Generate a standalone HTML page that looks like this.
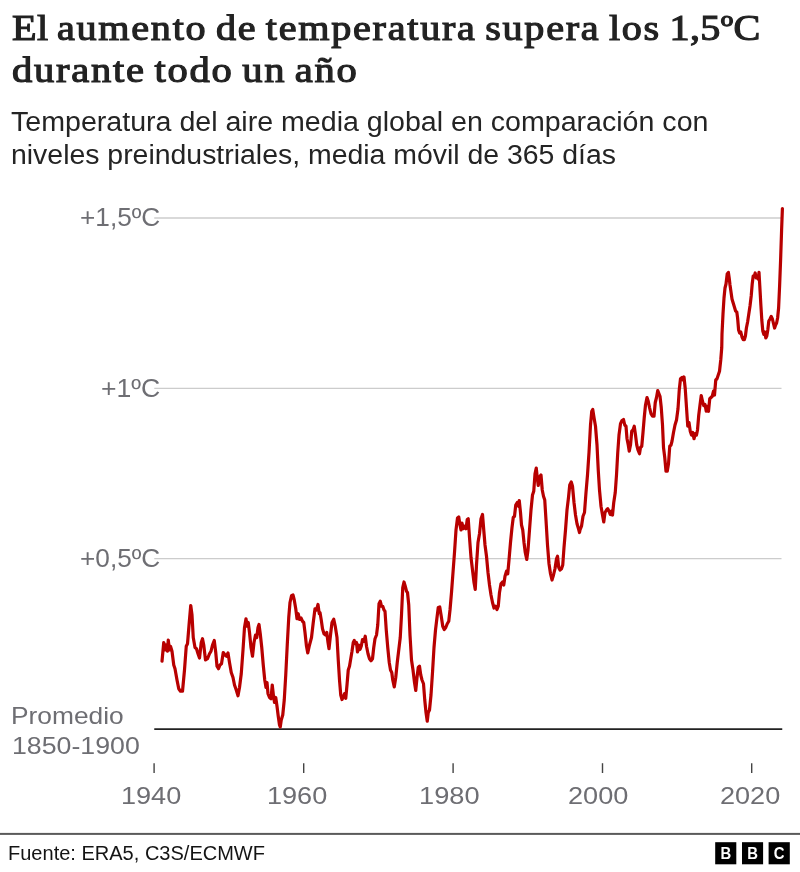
<!DOCTYPE html>
<html lang="es"><head><meta charset="utf-8"><title>El aumento de temperatura supera los 1,5ºC durante todo un año</title>
<style>
html,body{margin:0;padding:0;background:#fff;}
body{width:800px;height:872px;position:relative;overflow:hidden;font-family:"Liberation Sans",sans-serif;}
.t{position:absolute;white-space:nowrap;line-height:1;transform-origin:0 0;}
.title{font-family:"Liberation Serif",serif;font-weight:normal;color:#222;-webkit-text-stroke:1.1px #222;letter-spacing:1.5px;word-spacing:-2.8px;}
.n{letter-spacing:0.3px;}
.sub{color:#242424;}
.ax{color:#6e6e73;}
.src{color:#141414;}
svg{position:absolute;left:0;top:0;}
</style></head><body>
<svg width="800" height="872" viewBox="0 0 800 872">
<g stroke="#cccccc" stroke-width="1.3" fill="none">
<line x1="154.25" y1="218" x2="781.5" y2="218"/>
<line x1="154.25" y1="388.35" x2="781.5" y2="388.35"/>
<line x1="154.25" y1="558.7" x2="781.5" y2="558.7"/>
</g>
<line x1="154.25" y1="729.1" x2="782.25" y2="729.1" stroke="#222" stroke-width="1.7"/>
<g stroke="#444" stroke-width="1.4">
<line x1="154.1" y1="763.2" x2="154.1" y2="773"/>
<line x1="303.7" y1="763.2" x2="303.7" y2="773"/>
<line x1="453.1" y1="763.2" x2="453.1" y2="773"/>
<line x1="602.5" y1="763.2" x2="602.5" y2="773"/>
<line x1="751.7" y1="763.2" x2="751.7" y2="773"/>
</g>
<path d="M162 661.25 L163.75 642.5 L165 650 L166.25 645 L167.5 651.25 L168.25 640 L169.5 650 L170.5 646.25 L172 651.25 L173.75 665 L175 668.75 L177 680 L178.75 688.75 L180.5 691.25 L182.5 691.25 L184.5 670 L186.25 646.25 L187.5 643.75 L189.25 622.5 L190.75 605.5 L192 615 L193.25 637.5 L195 647.5 L196.5 648.75 L198 653.75 L199.5 658 L201.25 642.5 L202.5 638.75 L203.75 645 L205.5 660 L207.5 658.75 L209.5 653.75 L211 651.25 L212.5 645 L214.25 640.5 L215.75 652.5 L217 666.25 L218.5 668.75 L220 665 L221.5 663.75 L223.25 652.5 L225 655 L226.5 656.25 L228 653 L229.5 662.5 L231.25 672.5 L233 677.5 L234.5 685 L236.25 690 L238 695.75 L239.5 687.5 L241.25 673.75 L243 650 L244.5 627.5 L246 618.75 L247 626.25 L248.25 622.5 L249.5 632.5 L251 647.5 L252.5 656.25 L254 642.5 L255.5 635 L256.75 637.5 L258 627.5 L259 624.5 L260.25 633.75 L261.75 647.5 L263.25 665 L264.75 680 L266 687.5 L267 682.5 L268 693.75 L269.5 697.5 L271 698.75 L272.25 685 L273.5 696.25 L274.5 702.5 L275.75 697.5 L277 706.25 L278.25 716.25 L279.5 725 L280.25 727 L281.25 720 L282.75 715 L284.25 700 L285.75 675 L287.25 645 L288.75 617.5 L290 602.5 L291.5 595.75 L293 595 L294.25 600 L295.75 608.75 L297 618.75 L298.25 613.75 L299.5 619.5 L301 618 L302.5 621.25 L303.75 622.5 L305 632.5 L306.5 646.25 L307.75 653 L309.5 645 L311.5 637.5 L313.25 622.5 L315 608.75 L316.5 610 L318 604.5 L319.25 613.75 L320 612.5 L321.25 620 L322.5 628.75 L324 633.75 L325.5 635 L326.75 632.5 L328 642.5 L329 648.75 L330.5 635 L332 622.5 L333.75 619.25 L335.25 626.25 L337 637.5 L338.25 660 L339.5 680 L340.75 695 L342 699.5 L343.5 696.25 L344.5 693.75 L345.75 698.25 L347 685 L348.25 670 L349.5 666.25 L350.75 658.75 L352 651.25 L353.25 642.5 L354.25 640.5 L355.5 643.75 L356.5 642.5 L357.5 652 L358.75 645 L360 649.5 L361.25 646.25 L362.5 639.5 L364 641.25 L365.25 636.25 L366.5 646.25 L368 653.75 L369.5 658.75 L371 660.75 L372.5 658.75 L373.75 647.5 L375 638.75 L376.5 635 L377.75 625 L379 603.75 L380.25 601.25 L381.5 606.25 L382.75 606.25 L384 610 L385 611.25 L386.25 630 L387.75 647.5 L389.25 662.5 L390.5 670 L391.75 672.5 L392.75 680 L394.25 687 L395.75 677.5 L397.25 662.5 L398.75 650 L400.25 637.5 L401.5 615 L402.75 587.5 L404 582 L405.25 586.25 L406.5 591.25 L407.5 592.5 L408.75 605 L410 635 L411.5 660 L413 670 L414.5 682.5 L415.75 690.5 L417 677.5 L418.25 667.5 L419.5 666.25 L420.75 675 L422 680 L423.5 683.75 L424.75 700 L426 712.5 L427.25 721.25 L428.25 712.5 L429.5 710 L431 695 L432.5 672.5 L434 647.5 L435.5 630 L437 617.5 L438.25 607.5 L439.75 607 L441.25 616.25 L442.75 626.25 L444.25 629.5 L445.75 627.5 L447.25 623.75 L448.75 621.25 L450 610 L451.5 592.5 L453 572.5 L454.5 552.5 L456 530 L457.5 518 L458.75 517 L460 525 L461 530 L462 523 L463.25 528.75 L464.5 526.25 L466 528.75 L467.25 519.5 L468.25 518.75 L469.5 537.5 L471 557.5 L472.5 570 L474 582.5 L475.25 589.5 L476.5 565 L478 542.5 L479.5 533.75 L481 518.75 L482.5 514.5 L483.75 530 L485 545 L486.5 556.25 L488 572.5 L489.5 585 L491 595 L492.5 602.5 L494 608 L495.5 606.25 L497 609.5 L498.25 606.25 L499.5 592.5 L501 583.75 L502.5 582 L503.75 585 L505 576.25 L506.5 571.25 L507.75 573.75 L509 560 L510.5 542.5 L512 527.5 L513.25 517.5 L514.5 516.25 L515.75 505 L517.25 502.5 L518.5 506.25 L519.25 500.5 L520.5 512.5 L521.5 525 L522.75 530 L524 542.5 L525.25 552.5 L526.75 559.5 L528 550 L529.5 530 L531 510 L532.5 495 L533.75 491.25 L535 473.75 L536.25 468 L537.25 477.5 L538.25 485.5 L539.5 477 L541 475 L542.25 490 L543.5 496.25 L544.75 500 L546 520 L547.5 545 L549 563.75 L550.5 573.75 L552 580 L553.5 575 L555 568.75 L556.5 558.75 L557.5 556.25 L558.75 567.5 L560 570 L561.5 568.75 L562.75 565 L564 547.5 L565.5 530 L567 510 L568.5 497.5 L569.75 485 L571.25 482 L572.5 486.25 L574 502.5 L575.5 515 L577 523.75 L578.5 528.75 L579.5 532.5 L580 530 L581.5 526.25 L583 516.25 L584.5 512.5 L586 492.5 L587.5 475 L589 452.5 L590.5 425 L591.75 411.25 L592.75 409.5 L594 417.5 L595.5 426.25 L597 445 L598.25 470 L599.5 490 L601 506.25 L602.5 515 L603.75 522 L605 512.5 L606.5 510 L607.75 508.75 L609 511.25 L610.25 514.5 L611.5 511.25 L612.5 515 L613.75 502.5 L615.25 492.5 L616.5 475 L617.75 452.5 L619 435 L620.5 423.75 L622 420.5 L623.5 419.5 L624.75 425 L626 426.25 L627 438.75 L628.25 445 L629.25 451.25 L630.5 445 L631.75 431.25 L633 430 L634.25 426.25 L635.5 435 L636.75 445 L638 450 L639.5 453.75 L640.5 447.5 L641.75 446.25 L643 432.5 L644.25 417.5 L645.5 405 L647 397.5 L648.25 401.25 L649.5 407.5 L651 413.75 L652.5 416.25 L654 416.25 L655.25 402.5 L656.5 397.5 L657.75 390.5 L659 393.75 L660 396.25 L661.25 407.5 L662.5 425 L663.5 447.5 L664.75 457.5 L666 471.25 L667.25 471.25 L668.5 463.75 L669.75 446.25 L671 445 L672 441.25 L673.5 432.5 L675 425 L676.5 420 L678 408.75 L679.25 390 L680.5 378.75 L682 377.5 L683.25 380 L684 377 L685.25 388.75 L686.5 407.5 L687.75 426.25 L689 422.5 L690.25 431.25 L691.5 435 L692.75 432.5 L694 438.75 L695.25 433.75 L696.5 435 L697.5 430 L698.75 415 L700 405 L701.25 395.5 L702.5 401.25 L703.75 405.5 L705 404.5 L706.25 411.25 L707.25 406.25 L708.5 411.25 L709.75 398.75 L711 397.5 L712.25 396.25 L713.5 391.25 L714.5 395 L715.75 380 L717 378.75 L718.25 375 L719.5 371.25 L720.75 360 L721.75 347.5 L722 334 L723 314 L724 298 L725 288 L726 284 L727.2 274 L728.4 272.4 L729.2 278 L730 285 L731 292 L732 299 L733.2 303 L734.4 307 L735.6 311 L736.8 312 L737.6 318 L738.6 330 L739.6 333 L740.8 332 L742 337 L743.2 339.6 L744.4 339.6 L745.4 336 L746.4 328 L747.6 322 L748.8 314 L750 306 L751.2 296 L752.2 284 L753.2 276 L754.2 276.4 L755.2 273 L756.2 278 L757.2 277 L758.2 279 L759 272.4 L759.8 286 L760.8 304 L761.8 320 L762.8 331 L763.8 334.4 L764.8 332 L765.8 338 L766.8 336 L767.8 330 L768.8 321 L770 319 L771.2 316.4 L772.4 319 L773.6 324 L774.6 328 L775.6 325 L776.6 323 L777.6 318 L778.6 308 L779.6 286 L780.6 260 L781.6 230 L782.4 208.6" fill="none" stroke="#b80000" stroke-width="3.2" stroke-linejoin="round" stroke-linecap="round"/>
<rect x="0" y="832.9" width="800" height="2" fill="#5a5a5a"/>
<g fill="#000">
<rect x="715.2" y="842.2" width="21.1" height="22.1"/>
<rect x="742" y="842.2" width="21.1" height="22.1"/>
<rect x="768.6" y="842.2" width="21.2" height="22.1"/>
</g>
<g fill="#fff" font-family="Liberation Sans, sans-serif" font-weight="bold" font-size="16.5" text-anchor="middle">
<text transform="translate(725.8 859.3) scale(.9 1)">B</text>
<text transform="translate(752.6 859.3) scale(.9 1)">B</text>
<text transform="translate(779.2 859.3) scale(.9 1)">C</text>
</g>
</svg>
<div class="t title" id="t1" style="left:12.00px;top:12.00px;font-size:34.8px;transform:scaleX(1.1542);"><span class="n">El</span> aumento de temperatura supera los <span class="n">1,5ºC</span></div>
<div class="t title" id="t2" style="left:12.00px;top:54.00px;font-size:34.8px;transform:scaleX(1.1653);">durante todo un año</div>
<div class="t sub" id="s1" style="left:11.00px;top:109.25px;font-size:27px;transform:scaleX(1.0585);">Temperatura del aire media global en comparación con</div>
<div class="t sub" id="s2" style="left:11.00px;top:142.10px;font-size:27px;transform:scaleX(1.0525);">niveles preindustriales, media móvil de 365 días</div>
<div class="t ax" id="y1" style="left:80.00px;top:205.40px;font-size:25px;transform:scaleX(1.0487);">+1,5ºC</div>
<div class="t ax" id="y2" style="left:101.00px;top:375.70px;font-size:25px;transform:scaleX(1.0643);">+1ºC</div>
<div class="t ax" id="y3" style="left:80.00px;top:546.00px;font-size:25px;transform:scaleX(1.0487);">+0,5ºC</div>
<div class="t ax" id="p1" style="left:11.00px;top:704.00px;font-size:24.5px;transform:scaleX(1.0749);">Promedio</div>
<div class="t ax" id="p2" style="left:12.00px;top:734.30px;font-size:24.5px;transform:scaleX(1.0902);">1850-1900</div>
<div class="t ax" id="x1" style="left:121.00px;top:783.60px;font-size:24.5px;transform:scaleX(1.1050);">1940</div>
<div class="t ax" id="x2" style="left:267.00px;top:783.60px;font-size:24.5px;transform:scaleX(1.1050);">1960</div>
<div class="t ax" id="x3" style="left:419.00px;top:783.60px;font-size:24.5px;transform:scaleX(1.1101);">1980</div>
<div class="t ax" id="x4" style="left:568.00px;top:783.60px;font-size:24.5px;transform:scaleX(1.1073);">2000</div>
<div class="t ax" id="x5" style="left:720.00px;top:783.60px;font-size:24.5px;transform:scaleX(1.1050);">2020</div>
<div class="t src" id="src" style="left:8.00px;top:843.40px;font-size:20px;transform:scaleX(1.0010);">Fuente: ERA5, C3S/ECMWF</div>
</body></html>
